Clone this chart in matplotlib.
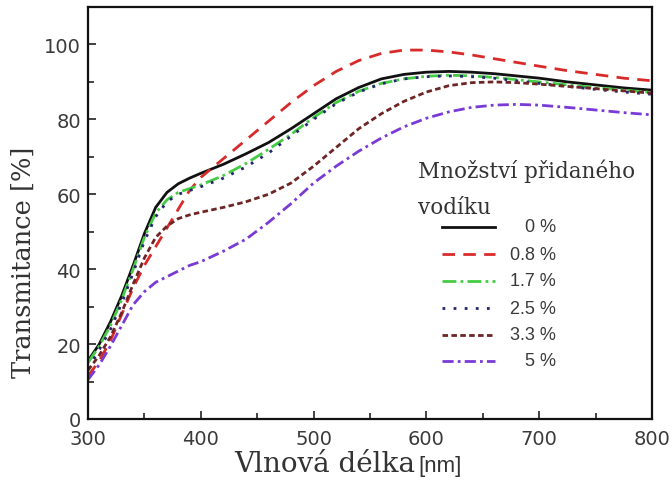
import numpy as np
import matplotlib
matplotlib.use("Agg")
import matplotlib.pyplot as plt
from matplotlib.ticker import MultipleLocator

wavelength = [300, 310, 320, 330, 340, 350, 360, 370, 380, 390, 400,
              420, 440, 460, 480, 500, 520, 540, 560, 580, 600,
              620, 640, 660, 680, 700, 725, 750, 775, 800]

t_0 = [15.5, 20, 26, 33, 41, 49.5, 56.5, 60.5, 62.8, 64.3, 65.6,
       68, 70.8, 73.8, 77.5, 81.5, 85.5, 88.5, 90.8, 92, 92.6,
       92.8, 92.6, 92.2, 91.6, 91, 90, 89.2, 88.4, 87.8]
t_08 = [11.5, 15.5, 21, 28, 35, 41, 46, 51, 56, 61, 64.5,
        69.5, 74.5, 79.5, 84.5, 89, 92.8, 95.7, 97.6, 98.5, 98.5,
        98, 97.2, 96.2, 95.2, 94.2, 93, 92, 91, 90.3]
t_17 = [15, 19.5, 25, 32, 40, 48.5, 55, 58.5, 60.5, 61.5, 62.5,
        65, 68.2, 72, 76, 80.5, 84.5, 87.5, 89.6, 90.8, 91.5,
        91.8, 91.6, 91.2, 90.6, 90, 89.2, 88.5, 87.8, 87.2]
t_25 = [13.5, 18.5, 24, 31, 39, 47.5, 54, 58, 60, 61, 62,
        64.3, 67.3, 71, 75.5, 80, 84.2, 87.3, 89.5, 90.8, 91.4,
        91.6, 91.4, 91, 90.3, 89.6, 88.8, 88, 87.3, 86.7]
t_33 = [13, 17, 22, 28.5, 36, 43, 48.5, 51.5, 53.5, 54.5, 55.2,
        56.5, 58, 60, 63, 67.5, 72.5, 77.5, 81.5, 84.8, 87.3,
        89, 89.8, 90, 89.8, 89.4, 88.8, 88.2, 87.6, 87]
t_5 = [10.5, 14.5, 19.5, 25, 30.5, 34, 36.5, 38, 39.5, 41, 42,
       44.8, 48, 52.5, 57.5, 63, 67.5, 71.5, 75, 78, 80.3,
       82, 83.2, 83.8, 84, 83.8, 83.2, 82.5, 81.8, 81.2]

labels = ["0 %", "0.8 %", "1.7 %", "2.5 %", "3.3 %", "5 %"]
series = [t_0, t_08, t_17, t_25, t_33, t_5]
colors = ["#111111", "#d92a2a", "#45cc45", "#25256e", "#6e2525", "#7a3ad6"]
styles = ["-", (0, (4.5, 3)), (0, (5, 1.5, 1, 1.5)), (0, (1, 3)),
          (0, (2, 1.2)), (0, (4, 1.5, 1, 1.5))]
widths = [2.0, 2.0, 2.0, 2.0, 2.0, 2.0]

W, H = 672, 485
fig = plt.figure(figsize=(W / 100, H / 100), dpi=100)
ax = fig.add_axes([88 / W, 65 / H, 564 / W, 412 / H])

for y, c, ls, lw in zip(series, colors, styles, widths):
    ax.plot(wavelength, y, color=c, linestyle=ls, linewidth=lw)

ax.set_xlim(300, 800)
ax.set_ylim(0, 110)
ax.xaxis.set_major_locator(MultipleLocator(100))
ax.xaxis.set_minor_locator(MultipleLocator(50))
ax.yaxis.set_major_locator(MultipleLocator(20))
ax.yaxis.set_minor_locator(MultipleLocator(10))
ax.tick_params(which="both", direction="in", top=False, right=False,
               width=1.2, colors="#222222", labelcolor="#3a3a3a",
               labelsize=14)
ax.tick_params(which="major", length=6)
ax.tick_params(axis="x", which="major", pad=7)
ax.tick_params(axis="y", which="major", pad=5)
ax.tick_params(which="minor", length=4)
for s in ax.spines.values():
    s.set_linewidth(1.6)
    s.set_color("#111111")

# axis titles: serif word + unit
fig.text(415 / W, (H - 472) / H, "Vlnová délka", family="DejaVu Serif",
         fontsize=20, ha="right", va="baseline", color="#333333")
fig.text(418 / W, (H - 472) / H, "[nm]", family="Liberation Sans",
         fontsize=16, ha="left", va="baseline", color="#333333")
fig.text(23 / W, (H - 378) / H, "Transmitance [%]", family="DejaVu Serif",
         fontsize=18.5, rotation=90, ha="center", va="bottom",
         color="#333333")

# legend drawn by hand: title, then handle + right-aligned label
fig.text(418 / W, (H - 178) / H, "Množství přidaného",
         family="DejaVu Serif", fontsize=15.5, ha="left", va="baseline",
         color="#333333")
fig.text(418 / W, (H - 214) / H, "vodíku",
         family="DejaVu Serif", fontsize=15.5, ha="left", va="baseline",
         color="#333333")
row_y = [228, 255, 282, 309, 336, 362]
for ry, lab, c, ls, lw in zip(row_y, labels, colors, styles, widths):
    yy = (H - ry) / H
    fig.add_artist(plt.Line2D([442 / W, 495 / W], [yy, yy], color=c,
                              linestyle=ls, linewidth=lw))
    fig.text(556 / W, yy, lab, family="Liberation Sans", fontsize=13,
             ha="right", va="center", color="#3a3a3a")

fig.savefig("out.png", dpi=100)
